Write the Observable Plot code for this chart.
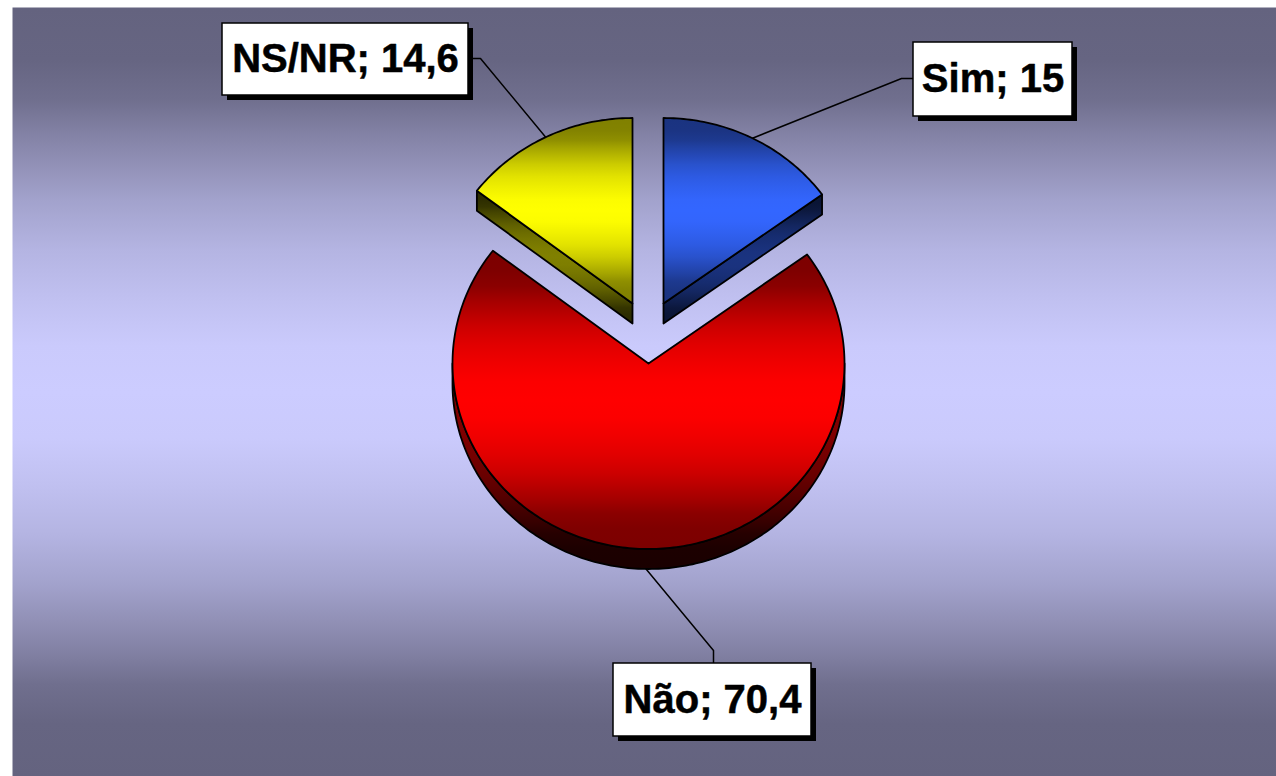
<!DOCTYPE html>
<html>
<head>
<meta charset="utf-8">
<script src="https://cdn.jsdelivr.net/npm/d3@7"></script>
<script src="https://cdn.jsdelivr.net/npm/@observablehq/plot@0.6"></script>
<style>
html,body{margin:0;padding:0;background:#fff;overflow:hidden}
svg{display:block}
</style>
</head>
<body>
<div id="chart"></div>
<script>
// Data
const categories = ["Sim", "Não", "NS/NR"];
const values = [15, 70.4, 14.6];

// Layout, in page pixels: the x and y scales below are laid out in these units
const sliceCentres = [[663, 303], [648, 363], [632, 303]];
const labelBoxes = [[913, 1072, 42, 116], [613, 811, 663, 736], [222, 468, 23, 95]];
const leaderElbows = [[[901, 78], [913, 78]], [[713, 650], [713, 663]], [[480, 58], [468, 58]]];
const gradientIds = ["blue", "red", "yellow"];
const rx = 196, ry = 185.5, depth = 20, shadow = 5;
const rad = d => d * Math.PI / 180;

const arcs = d3.pie().sort(null).value(d => d)(values);
const at = (i, a, dy = 0) => {
  const [cx, cy] = sliceCentres[i];
  return {x: cx + rx * Math.sin(a), y: cy - ry * Math.cos(a) + dy};
};
const sweep = (i, a0, a1, dy = 0) => {
  const n = Math.max(2, Math.ceil(Math.abs(a1 - a0) / rad(1)));
  return d3.range(n + 1).map(k => at(i, a0 + (a1 - a0) * k / n, dy));
};
const apex = (i, dy = 0) => ({x: sliceCentres[i][0], y: sliceCentres[i][1] + dy});

const tops = arcs.map((d, i) => ({
  id: gradientIds[i],
  points: [apex(i), ...sweep(i, d.startAngle, d.endAngle)]
}));

const walls = arcs.flatMap((d, i) => {
  const out = [];
  const a0 = Math.max(d.startAngle, Math.PI / 2), a1 = Math.min(d.endAngle, Math.PI * 1.5);
  if (a1 > a0) out.push({id: gradientIds[i], points: [...sweep(i, a0, a1), ...sweep(i, a0, a1, depth).reverse()]});
  if (d.endAngle < Math.PI / 2) out.push({id: gradientIds[i], points: [apex(i), at(i, d.endAngle), at(i, d.endAngle, depth), apex(i, depth)]});
  if (d.startAngle > Math.PI * 1.5) out.push({id: gradientIds[i], points: [apex(i), at(i, d.startAngle), at(i, d.startAngle, depth), apex(i, depth)]});
  return out;
});

const leaders = arcs.flatMap((d, i) => {
  const mid = (d.startAngle + d.endAngle) / 2;
  const down = mid > Math.PI / 2 && mid < Math.PI * 1.5 ? depth : 0;
  return [at(i, mid, down), ...leaderElbows[i].map(([x, y]) => ({x, y}))].map(p => ({...p, z: categories[i]}));
});

const boxes = categories.map((c, i) => {
  const [x1, x2, y1, y2] = labelBoxes[i];
  return {x1, x2, y1, y2, label: `${c}; ${String(values[i]).replace(".", ",")}`};
});

// Shading profile: [offset within the half band, mix from edge to peak colour]
const profile = [[0, 0], [0.137, 0.02], [0.24, 0.115], [0.325, 0.29], [0.41, 0.44], [0.5, 0.6], [0.63, 0.77], [0.755, 0.885], [0.88, 0.98], [1, 1]];
const band = (id, edge, peak, attrs = `x1="0" y1="0" x2="0" y2="1"`) => {
  const mix = d3.interpolateRgb(edge, peak);
  const half = profile.map(([o, m]) => [o / 2, mix(m)]);
  const other = profile.slice(0, -1).reverse().map(([o, m]) => [1 - o / 2, mix(m)]);
  const stops = [...half, ...other].map(([o, c]) => `<stop offset="${o}" stop-color="${c}"/>`).join("");
  return `<linearGradient id="${id}" ${attrs}>${stops}</linearGradient>`;
};
const defs = () => {
  const g = d3.create("svg:defs");
  g.html(
    band("bg", "#64637f", "#ccccff") +
    band("top-blue", "#1a3380", "#3366ff") +
    band("top-red", "#7c0000", "#ff0000") +
    band("top-yellow", "#808000", "#ffff00") +
    band("wall-blue", "#0a1434", "#1a3380") +
    band("wall-red", "#1a0000", "#800000", `gradientUnits="userSpaceOnUse" x1="0" y1="272" x2="0" y2="569"`) +
    band("wall-yellow", "#2b2b00", "#808000")
  );
  return g.node();
};

const face = (f, prefix, strokeWidth) => Plot.line(f.points, {
  x: "x", y: "y", curve: "linear-closed",
  fill: `url(#${prefix}-${f.id})`, stroke: "#000", strokeWidth
});

const chart = Plot.plot({
  width: 1276, height: 776,
  marginLeft: 12, marginTop: 7, marginRight: 0, marginBottom: 0,
  x: {domain: [12, 1276], axis: null},
  y: {domain: [776, 7], axis: null},
  style: {background: "#fff"},
  marks: [
    defs,
    Plot.frame({fill: "url(#bg)", stroke: "none"}),
    Plot.line(leaders, {x: "x", y: "y", z: "z", stroke: "#000", strokeWidth: 1.5}),
    ...walls.map(f => face(f, "wall", 1.8)),
    ...tops.map(f => face(f, "top", 1.8)),
    Plot.rect(boxes, {x1: d => d.x1 + shadow, x2: d => d.x2 + shadow, y1: d => d.y1 + shadow, y2: d => d.y2 + shadow, fill: "#000"}),
    Plot.rect(boxes, {x1: "x1", x2: "x2", y1: "y1", y2: "y2", fill: "#fff", stroke: "#000", strokeWidth: 1.5}),
    Plot.text(boxes, {
      x: d => (d.x1 + d.x2) / 2, y: d => (d.y1 + d.y2) / 2, text: "label",
      fontFamily: "Liberation Sans", fontWeight: "bold", fontSize: 40, fill: "#000", stroke: "#000", strokeWidth: 0.5, lineAnchor: "middle"
    })
  ]
});
document.getElementById("chart").append(chart);
</script>
</body>
</html>
